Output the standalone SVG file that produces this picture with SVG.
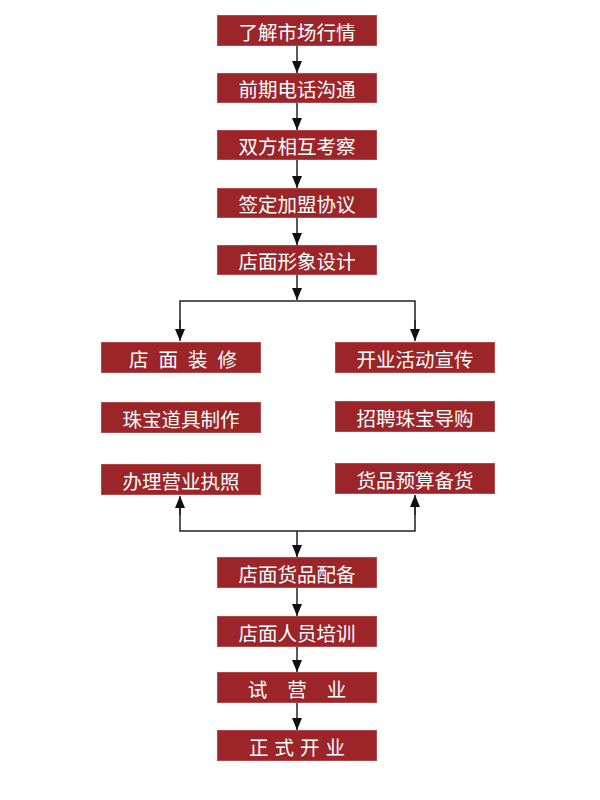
<svg xmlns="http://www.w3.org/2000/svg" width="600" height="800" viewBox="0 0 600 800">
<style>
.box{fill:#9c2529;stroke:#b4484a;stroke-width:1}
.t{fill:#fff;font-family:"Noto Sans CJK SC","Noto Sans",sans-serif;font-size:19.5px;text-anchor:middle;dominant-baseline:central}
.ln{stroke:#222;stroke-width:1.5;fill:none}
</style>
<defs>
<marker id="ah2" viewBox="0 0 12 10" refX="12" refY="5" markerWidth="12" markerHeight="11" markerUnits="userSpaceOnUse" orient="auto"><path d="M0,0 L12,5 L0,10 Z" fill="#111"/></marker>
</defs>
<g id="n1"><rect class="box" x="217.5" y="15.5" width="159" height="30"/><text class="t" x="297" y="31">了解市场行情</text></g>
<g id="n2"><rect class="box" x="217.5" y="73.5" width="159" height="29"/><text class="t" x="297" y="88.5">前期电话沟通</text></g>
<g id="n3"><rect class="box" x="217.5" y="130.5" width="159" height="29"/><text class="t" x="297" y="145.5">双方相互考察</text></g>
<g id="n4"><rect class="box" x="217.5" y="188.5" width="159" height="29"/><text class="t" x="297" y="203.5">签定加盟协议</text></g>
<g id="n5"><rect class="box" x="217.5" y="245.5" width="159" height="29"/><text class="t" x="297" y="260.5">店面形象设计</text></g>
<g id="n6"><rect class="box" x="101.5" y="342.5" width="159" height="30"/><text class="t" x="188" y="358" letter-spacing="10">店面装修</text></g>
<g id="n7"><rect class="box" x="101.5" y="402.5" width="159" height="30"/><text class="t" x="181" y="418">珠宝道具制作</text></g>
<g id="n8"><rect class="box" x="101.5" y="464.5" width="159" height="30"/><text class="t" x="181" y="480">办理营业执照</text></g>
<g id="n9"><rect class="box" x="335.5" y="342.5" width="159" height="30"/><text class="t" x="415" y="358">开业活动宣传</text></g>
<g id="n10"><rect class="box" x="335.5" y="401.5" width="159" height="30"/><text class="t" x="415" y="417">招聘珠宝导购</text></g>
<g id="n11"><rect class="box" x="335.5" y="463.5" width="159" height="30"/><text class="t" x="415" y="479">货品预算备货</text></g>
<g id="n12"><rect class="box" x="217.5" y="557.5" width="159" height="30"/><text class="t" x="297" y="573">店面货品配备</text></g>
<g id="n13"><rect class="box" x="217.5" y="616.5" width="159" height="30"/><text class="t" x="297" y="632">店面人员培训</text></g>
<g id="n14"><rect class="box" x="217.5" y="672.5" width="159" height="30"/><text class="t" x="307" y="688" letter-spacing="20">试营业</text></g>
<g id="n15"><rect class="box" x="217.5" y="730.5" width="159" height="30"/><text class="t" x="300" y="746" letter-spacing="6">正式开业</text></g>
<g id="connectors">
<line class="ln" x1="297" y1="46" x2="297" y2="73" marker-end="url(#ah2)"/>
<line class="ln" x1="297" y1="103" x2="297" y2="130" marker-end="url(#ah2)"/>
<line class="ln" x1="297" y1="160" x2="297" y2="188" marker-end="url(#ah2)"/>
<line class="ln" x1="297" y1="218" x2="297" y2="245" marker-end="url(#ah2)"/>
<line class="ln" x1="297" y1="275" x2="297" y2="300" marker-end="url(#ah2)"/>
<polyline class="ln" points="180,330 180,301 415,301 415,330"/>
<line class="ln" x1="180" y1="320" x2="180" y2="341" marker-end="url(#ah2)"/>
<line class="ln" x1="415" y1="320" x2="415" y2="341" marker-end="url(#ah2)"/>
<polyline class="ln" points="180,505 180,531 415,531 415,505"/>
<line class="ln" x1="180" y1="515" x2="180" y2="496" marker-end="url(#ah2)"/>
<line class="ln" x1="415" y1="515" x2="415" y2="495" marker-end="url(#ah2)"/>
<line class="ln" x1="297" y1="531" x2="297" y2="557" marker-end="url(#ah2)"/>
<line class="ln" x1="297" y1="588" x2="297" y2="616" marker-end="url(#ah2)"/>
<line class="ln" x1="297" y1="647" x2="297" y2="672" marker-end="url(#ah2)"/>
<line class="ln" x1="297" y1="703" x2="297" y2="730" marker-end="url(#ah2)"/>
</g>
</svg>
